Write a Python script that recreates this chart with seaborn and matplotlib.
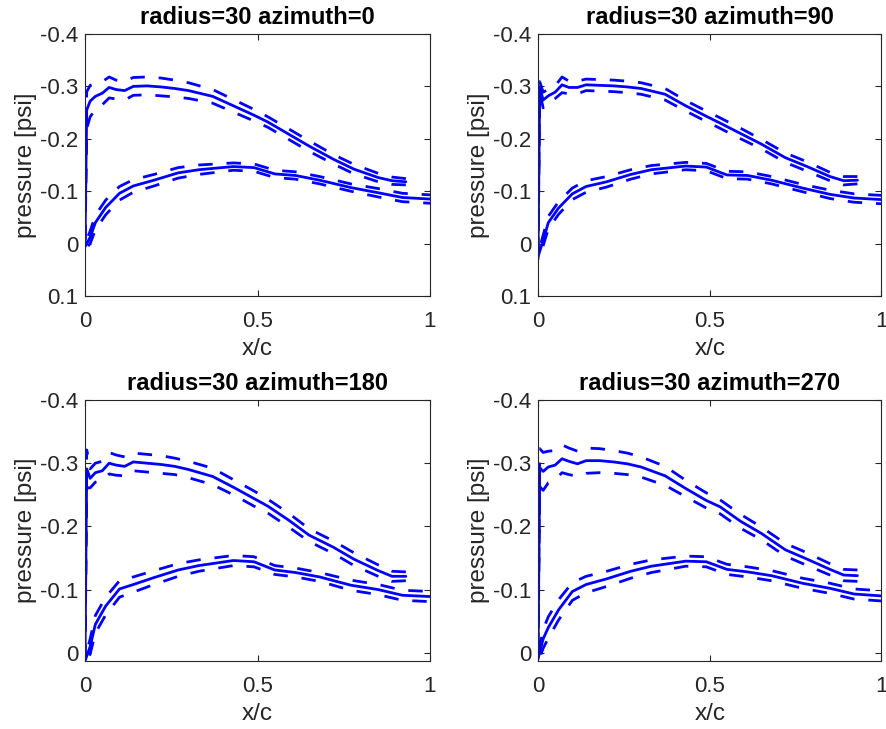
import numpy as np
import pandas as pd
import matplotlib
matplotlib.use("Agg")
import matplotlib.pyplot as plt
import seaborn as sns
from matplotlib.ticker import FixedLocator, FuncFormatter

# ---------------- data ----------------
titles = ["radius=30 azimuth=0", "radius=30 azimuth=90",
          "radius=30 azimuth=180", "radius=30 azimuth=270"]

x_upper = [0.0, 0.005, 0.015, 0.03, 0.05, 0.07, 0.09, 0.115, 0.14, 0.18, 0.22, 0.26,
           0.30, 0.37, 0.43, 0.49, 0.53, 0.59, 0.65, 0.72, 0.78, 0.85, 0.89, 0.93]
x_lower = [0.0, 0.015, 0.03, 0.06, 0.10, 0.14, 0.20, 0.27, 0.33, 0.43, 0.49, 0.55,
           0.61, 0.68, 0.77, 0.85, 0.92, 1.0]

p_upper_az0 = [0.006, -0.255, -0.272, -0.281, -0.287, -0.298, -0.294, -0.292, -0.300, -0.301,
               -0.299, -0.296, -0.292, -0.281, -0.263, -0.245, -0.232, -0.209, -0.186, -0.161,
               -0.142, -0.126, -0.120, -0.118]
s_upper_az0 = [0.005, 0.035, 0.030, 0.025, 0.022, 0.020, 0.018, 0.018, 0.017, 0.017,
               0.017, 0.016, 0.015, 0.013, 0.012, 0.011, 0.010, 0.010, 0.010, 0.009,
               0.009, 0.008, 0.007, 0.006]
p_lower_az0 = [0.006, -0.012, -0.040, -0.069, -0.096, -0.110, -0.121, -0.135, -0.141, -0.147,
               -0.145, -0.133, -0.130, -0.121, -0.107, -0.097, -0.088, -0.085]
s_lower_az0 = [0.003, 0.012, 0.014, 0.014, 0.013, 0.012, 0.011, 0.010, 0.009, 0.007,
               0.007, 0.007, 0.007, 0.007, 0.007, 0.008, 0.008, 0.008]

p_upper_az90 = [0.025, -0.299, -0.274, -0.282, -0.289, -0.303, -0.298, -0.298, -0.303, -0.302,
                -0.301, -0.299, -0.296, -0.285, -0.263, -0.243, -0.230, -0.210, -0.190, -0.164,
                -0.148, -0.128, -0.120, -0.121]
s_upper_az90 = [0.005, 0.010, 0.015, 0.012, 0.012, 0.015, 0.012, 0.012, 0.011, 0.011,
                0.011, 0.011, 0.011, 0.011, 0.010, 0.010, 0.010, 0.010, 0.009, 0.009,
                0.009, 0.008, 0.008, 0.007]
p_lower_az90 = [0.025, -0.006, -0.040, -0.068, -0.095, -0.109, -0.118, -0.132, -0.141, -0.148,
                -0.146, -0.131, -0.130, -0.121, -0.106, -0.094, -0.087, -0.084]
s_lower_az90 = [0.003, 0.010, 0.012, 0.012, 0.011, 0.011, 0.010, 0.009, 0.008, 0.007,
                0.007, 0.007, 0.007, 0.007, 0.007, 0.008, 0.008, 0.008]

p_upper_az180 = [0.013, -0.291, -0.276, -0.285, -0.288, -0.300, -0.297, -0.295, -0.302, -0.300,
                 -0.298, -0.295, -0.290, -0.279, -0.262, -0.244, -0.232, -0.210, -0.186, -0.167,
                 -0.148, -0.130, -0.121, -0.121]
s_upper_az180 = [0.005, 0.030, 0.015, 0.015, 0.015, 0.017, 0.016, 0.015, 0.014, 0.014,
                 0.014, 0.013, 0.013, 0.013, 0.012, 0.012, 0.011, 0.011, 0.010, 0.010,
                 0.010, 0.009, 0.008, 0.007]
p_lower_az180 = [0.013, -0.010, -0.045, -0.074, -0.101, -0.108, -0.119, -0.131, -0.138, -0.146,
                 -0.144, -0.131, -0.127, -0.120, -0.107, -0.100, -0.091, -0.089]
s_lower_az180 = [0.003, 0.012, 0.014, 0.014, 0.013, 0.012, 0.011, 0.010, 0.009, 0.008,
                 0.008, 0.007, 0.007, 0.007, 0.008, 0.008, 0.008, 0.008]

p_upper_az270 = [0.010, -0.293, -0.287, -0.294, -0.297, -0.307, -0.303, -0.299, -0.304, -0.304,
                 -0.302, -0.299, -0.294, -0.280, -0.260, -0.241, -0.231, -0.208, -0.189, -0.163,
                 -0.149, -0.132, -0.123, -0.122]
s_upper_az270 = [0.005, 0.030, 0.030, 0.025, 0.023, 0.022, 0.021, 0.020, 0.020, 0.019,
                 0.018, 0.017, 0.016, 0.015, 0.013, 0.012, 0.011, 0.011, 0.010, 0.010,
                 0.010, 0.009, 0.009, 0.009]
p_lower_az270 = [0.010, -0.022, -0.040, -0.068, -0.097, -0.108, -0.117, -0.129, -0.137, -0.145,
                 -0.144, -0.132, -0.128, -0.122, -0.110, -0.102, -0.093, -0.090]
s_lower_az270 = [0.003, 0.015, 0.017, 0.016, 0.014, 0.013, 0.012, 0.011, 0.010, 0.008,
                 0.008, 0.008, 0.008, 0.008, 0.008, 0.008, 0.008, 0.008]

panels = [
    (p_upper_az0, s_upper_az0, p_lower_az0, s_lower_az0),
    (p_upper_az90, s_upper_az90, p_lower_az90, s_lower_az90),
    (p_upper_az180, s_upper_az180, p_lower_az180, s_lower_az180),
    (p_upper_az270, s_upper_az270, p_lower_az270, s_lower_az270),
]

yticks_top = [-0.4, -0.3, -0.2, -0.1, 0.0, 0.1]
yticks_bottom = [-0.4, -0.3, -0.2, -0.1, 0.0]
xticks = [0, 0.5, 1]

# ---------------- style ----------------
sns.set_theme(style="white")
plt.rcParams["font.family"] = ["Liberation Sans", "DejaVu Sans"]
plt.rcParams["axes.unicode_minus"] = False

fig = plt.figure(figsize=(8.87, 7.29), dpi=100)
W, H = 887, 729
boxes = [(85, 34, 430, 296), (538, 34, 881.5, 296),
         (85, 400, 430, 661), (538, 400, 881.5, 661)]

fmt = FuncFormatter(lambda v, p: "%g" % round(v, 3))
BLUE = (0, 0, 1)
DARK = "#262626"
LW = 2.0

for i, (box, title, pdat) in enumerate(zip(boxes, titles, panels)):
    l, t, r, b = box
    ax = fig.add_axes([l / W, 1 - b / H, (r - l) / W, (b - t) / H])
    pu, su, pl, sl = [np.asarray(a) for a in pdat]
    xu = np.asarray(x_upper)
    xl = np.asarray(x_lower)
    x_loop = np.concatenate([xu[::-1], xl[1:]])
    mean_loop = np.concatenate([pu[::-1], pl[1:]])
    spr_loop = np.concatenate([su[::-1], sl[1:]])
    df = pd.DataFrame({"x": x_loop, "mean": mean_loop,
                       "lo": mean_loop - spr_loop, "hi": mean_loop + spr_loop})
    sns.lineplot(data=df, x="x", y="mean", sort=False, estimator=None,
                 color=BLUE, lw=LW, ax=ax)
    for col in ["lo", "hi"]:
        sns.lineplot(data=df, x="x", y=col, sort=False, estimator=None,
                     color=BLUE, lw=LW, linestyle=(0, (5.2, 5.0)), ax=ax)

    ax.set_xlim(0, 1)
    if i < 2:
        ax.set_ylim(0.1, -0.4)
        ax.yaxis.set_major_locator(FixedLocator(yticks_top))
    else:
        ax.set_ylim(0.013, -0.4)
        ax.yaxis.set_major_locator(FixedLocator(yticks_bottom))
    ax.xaxis.set_major_locator(FixedLocator(xticks))
    ax.xaxis.set_major_formatter(fmt)
    ax.yaxis.set_major_formatter(fmt)
    ax.tick_params(direction="in", length=4, width=0.8, color=DARK,
                   labelsize=16, labelcolor=DARK,
                   top=True, right=True, bottom=True, left=True)
    ax.tick_params(axis="y", pad=5)
    ax.tick_params(axis="x", pad=11)
    for sp in ax.spines.values():
        sp.set_color(DARK)
        sp.set_linewidth(0.8)
    ax.set_xlabel("x/c", fontsize=17.5, color=DARK, labelpad=4)
    ax.set_ylabel("pressure [psi]", fontsize=17.5, color=DARK, labelpad=2)
    ax.set_title(title, fontsize=17, fontweight="bold", color="black", pad=7)

fig.savefig("out.png", dpi=100)
